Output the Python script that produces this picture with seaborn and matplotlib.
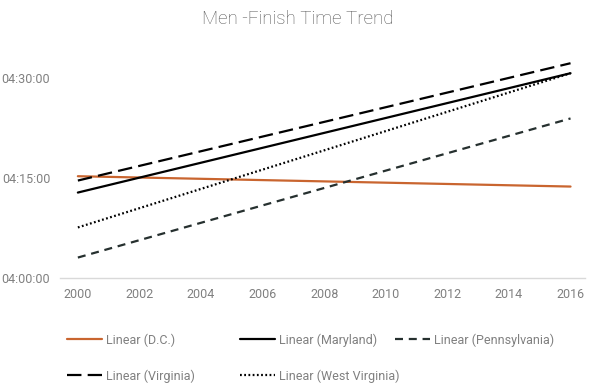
import matplotlib
matplotlib.use("Agg")
import matplotlib.pyplot as plt
from matplotlib.lines import Line2D
from matplotlib.ticker import FuncFormatter, FixedLocator
import seaborn as sns
import pandas as pd

# ---- data (trend line endpoints) ----
years = [2000, 2016]
series_names = ["D.C.", "Maryland", "Pennsylvania", "Virginia", "West Virginia"]
dc_times = ["04:15:16", "04:13:43"]
maryland_times = ["04:12:49", "04:30:43"]
pennsylvania_times = ["04:03:04", "04:23:56"]
virginia_times = ["04:14:37", "04:32:13"]
west_virginia_times = ["04:07:35", "04:30:43"]
x_ticks = [2000, 2002, 2004, 2006, 2008, 2010, 2012, 2014, 2016]
y_ticks = ["04:00:00", "04:15:00", "04:30:00"]
title = "Men -Finish Time Trend"


def to_min(s):
    h, m, sec = (int(v) for v in s.split(":"))
    return h * 60 + m + sec / 60.0


def fmt(v, pos=None):
    total = int(round(v * 60))
    h, rem = divmod(total, 3600)
    m, s = divmod(rem, 60)
    return f"{h:02d}:{m:02d}:{s:02d}"


all_times = [dc_times, maryland_times, pennsylvania_times, virginia_times, west_virginia_times]
rows = []
for name, times in zip(series_names, all_times):
    for yr, t in zip(years, times):
        rows.append({"series": name, "year": yr, "minutes": to_min(t)})
df = pd.DataFrame(rows)

sns.set_theme(style="white")
plt.rcParams["font.family"] = ["Roboto", "DejaVu Sans"]

styles = {
    "D.C.": dict(color="#C9652F", ls="-", lw=1.6),
    "Maryland": dict(color="#000000", ls="-", lw=1.6),
    "Pennsylvania": dict(color="#26302F", ls=(0, (3.6, 2.6)), lw=1.6),
    "Virginia": dict(color="#000000", ls=(0, (6.5, 2.8)), lw=1.6),
    "West Virginia": dict(color="#000000", ls=(0, (0.8, 1.1)), lw=1.6),
}

TICK_COLOR = "#808080"

fig = plt.figure(figsize=(5.96, 3.89), dpi=100)
ax = fig.add_axes([60 / 596, 1 - 278 / 389, 525 / 596, 238 / 389])

for name in series_names:
    st = styles[name]
    sub = df[df["series"] == name]
    sns.lineplot(data=sub, x="year", y="minutes", ax=ax, color=st["color"],
                 linestyle=st["ls"], linewidth=st["lw"], legend=False)

ymin = to_min("04:00:00")
ax.set_ylim(ymin, ymin + 238 / (100 / 15))
ax.set_xlim(1999.42, 2016.47)
ax.xaxis.set_major_locator(FixedLocator(x_ticks))
ax.yaxis.set_major_locator(FixedLocator([to_min(t) for t in y_ticks]))
ax.yaxis.set_major_formatter(FuncFormatter(fmt))
ax.set_xticklabels([str(x) for x in x_ticks])
ax.set_xlabel("")
ax.set_ylabel("")

for sp in ["top", "right", "left"]:
    ax.spines[sp].set_visible(False)
ax.spines["bottom"].set_color("#D9D9D9")
ax.spines["bottom"].set_linewidth(1.0)
ax.tick_params(axis="both", length=0, labelsize=9, labelcolor=TICK_COLOR)
ax.tick_params(axis="x", pad=7)
ax.tick_params(axis="y", pad=7)

fig.text(0.5, 1 - 23.5 / 389, title, ha="center", va="baseline", fontsize=13.5,
         color="#555555", fontweight="light")

# legend entries placed individually
positions = {
    "D.C.": (67, 340),
    "Maryland": (240, 340),
    "Pennsylvania": (395, 340),
    "Virginia": (67, 376),
    "West Virginia": (240, 376),
}
for name in series_names:
    st = styles[name]
    h = Line2D([0], [0], color=st["color"], linestyle=st["ls"], linewidth=st["lw"])
    px, py = positions[name]
    fig.legend([h], [f"Linear ({name})"], loc="center left",
               bbox_to_anchor=(px / 596, 1 - py / 389), frameon=False,
               fontsize=9, handlelength=2.8, handletextpad=0.32,
               borderpad=0, borderaxespad=0, labelcolor=TICK_COLOR)

fig.savefig("out.png", dpi=100)
